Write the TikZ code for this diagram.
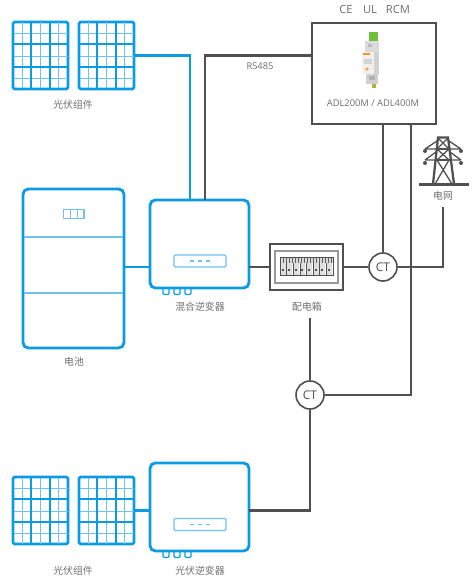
\documentclass[tikz,border=0pt]{standalone}
\usepackage{fontspec}
\setmainfont{Open Sans}
\newfontfamily\cjk{Noto Sans CJK SC}[Scale=1]
\definecolor{pvblue}{HTML}{0B9BE3}
\definecolor{lightb}{HTML}{6FC3EE}
\definecolor{darkl}{HTML}{505050}
\definecolor{txt}{HTML}{6E6E6E}
\definecolor{devgreen}{HTML}{6FBF3A}
\tikzset{
  bluewire/.style={draw=pvblue,line width=1.9pt},
  darkwire/.style={draw=darkl,line width=1.75pt},
  blueframe/.style={draw=pvblue,line width=2.1pt,rounded corners=4pt,fill=white,inner sep=0pt,outer sep=0pt},
  panelbox/.style={draw=pvblue,line width=2pt,rounded corners=1.2pt,inner sep=0pt,outer sep=0pt,minimum width=41.25pt,minimum height=50.25pt},
  ctnode/.style={circle,draw=darkl,line width=1.2pt,fill=white,minimum size=21pt,inner sep=0pt,font=\fontsize{9pt}{9pt}\selectfont,text=darkl},
  lab/.style={text=txt,inner sep=0pt,font=\cjk\fontsize{7.4pt}{8pt}\selectfont},
  lat/.style={text=txt,inner sep=0pt,font=\fontsize{7pt}{8pt}\selectfont},
  toplab/.style={text=txt,inner sep=0pt,font=\fontsize{8.4pt}{9pt}\selectfont},
  thinb/.style={draw=lightb,line width=0.8pt},
  thickb/.style={draw=pvblue,line width=1.8pt}
}
\newcommand{\pvpanel}[3]{% name, cx, cy
  \node[panelbox] (#1) at (#2,#3) {};
  \begin{scope}[shift={(#2,#3)}]
    \foreach \a in {-18.3,0,18.3} \draw[thinb] (\a,-33) -- (\a,33);
    \foreach \a in {-22.3,0.7,22.7} \draw[thinb] (-27,\a) -- (27,\a);
    \foreach \a in {-9.5,9.5} \draw[thickb] (\a,-33) -- (\a,33);
    \foreach \a in {-11.5,11.5} \draw[thickb] (-27,\a) -- (27,\a);
  \end{scope}
}
\newcommand{\invfeet}[2]{%
  \foreach \a in {-11,0,11}
    \draw[draw=pvblue,line width=0.9pt,rounded corners=1pt] (#1+\a-3,#2) -- (#1+\a-3,#2+6) -- (#1+\a+3,#2+6) -- (#1+\a+3,#2);
}
\newcommand{\invdisplay}[2]{%
  \draw[draw=lightb,line width=0.9pt,rounded corners=1pt] (#1-26,#2-6) rectangle (#1+26,#2+6);
  \foreach \a in {-8,0,8} \fill[lightb] (#1+\a-1.6,#2-0.8) rectangle (#1+\a+1.6,#2+0.8);
}
\begin{document}
\begin{tikzpicture}[x=0.75pt,y=-0.75pt]
\useasboundingbox (0,0) rectangle (474,577);
% nodes
\pvpanel{pvA}{40.5}{55.5}
\pvpanel{pvB}{106.5}{55.5}
\pvpanel{pvC}{40.5}{510.5}
\pvpanel{pvD}{106.5}{510.5}
\node[blueframe,minimum width=74.25pt,minimum height=66pt] (hyb) at (199.5,244) {};
\node[blueframe,minimum width=74.25pt,minimum height=66pt] (inv) at (199.5,507) {};
\node[blueframe,minimum width=75.75pt,minimum height=119.25pt] (bat) at (73.5,268.5) {};
\node[draw=darkl,line width=2.2pt,fill=white,inner sep=0pt,outer sep=0pt,minimum width=54.75pt,minimum height=34.5pt] (dist) at (306.5,267) {};
\node[draw=darkl,line width=2pt,fill=white,inner sep=0pt,outer sep=0pt,minimum width=93pt,minimum height=75.75pt] (mon) at (374,73.5) {};
\node[ctnode] (ct1) at (383,267) {CT};
\node[ctnode] (ct2) at (310,395) {CT};
\coordinate (hybBlue) at (190,200);
\coordinate (hybDark) at (205,200);
\coordinate (monL) at (383,124);
\coordinate (monR) at (411,124);
\coordinate (gridEnd) at (443,207);
\coordinate (distEnd) at (310,318);
% connectors
\draw[bluewire] (pvB.east) -| (hybBlue);
\draw[bluewire] (bat.east |- ct1.west) -- (hyb.west |- ct1.west);
\draw[bluewire] (pvD.east) -- (inv.west |- pvD.east);
\draw[darkwire] (hybDark) |- (mon.west |- pvB.east);
\draw[darkwire] (hyb.east |- ct1.west) -- (dist.west |- ct1.west);
\draw[darkwire] (dist.east |- ct1.west) -- (ct1.west);
\draw[darkwire] (ct1.north) -- (monL);
\draw[darkwire] (ct1.east) -| (gridEnd);
\draw[darkwire] (monR) |- (ct2.east);
\draw[darkwire] (distEnd) -- (ct2.north);
\draw[darkwire] (ct2.south) |- (inv.east |- pvD.east);
% inverters
\invfeet{177}{288.5}
\invfeet{177}{551.5}
\invdisplay{200}{261}
\invdisplay{200}{524.5}
% battery
\draw[draw=lightb,line width=1.2pt] (24,237) -- (123,237);
\draw[draw=lightb,line width=1pt] (24,293) -- (123,293);
\draw[draw=lightb,line width=0.9pt] (63.5,209.5) rectangle (84,218.5);
\draw[draw=lightb,line width=0.9pt] (70.3,209.5) -- (70.3,218.5) (77.2,209.5) -- (77.2,218.5);
% distribution box
\draw[draw=gray!80,line width=0.8pt] (275,251) rectangle (338,283);
\fill[gray!30] (280,257) rectangle (333,262.5);
\foreach \i in {0,...,17} \fill[darkl!90] (280+\i*3,257) rectangle (281.2+\i*3,262.5);
\draw[darkl,line width=0.4pt] (280,257) rectangle (333,275);
\foreach \i in {0,...,7} {
  \fill[gray!25] (280.5+\i*6.6,263) rectangle (285.5+\i*6.6,274.5);
  \fill[darkl] (281.5+\i*6.6,269) rectangle (283.5+\i*6.6,270.5);
  \draw[darkl,line width=0.35pt] (280+\i*6.6,263) -- (280+\i*6.6,275);
}
% device
\fill[gray!28] (365,41) rectangle (379,57);
\fill[gray!55] (368,44) rectangle (372,47);
\fill[devgreen] (369,32) rectangle (378,41);
\fill[gray!35] (366,52) rectangle (379,74);
\fill[gray!12] (362,52) rectangle (374,74);
\fill[orange!85] (362.5,53) rectangle (369.5,55.5);
\fill[gray!35] (364,59) rectangle (372,64);
\fill[orange!75] (367,69) circle (1.8);
\fill[gray!38] (366,74) rectangle (378,84);
\fill[gray!60] (369,76) rectangle (375,80);
\fill[olive!65] (372,84) rectangle (376,88);
% tower
\begin{scope}[draw=darkl,line width=0.95pt]
  \draw[line width=1.7pt] (419,184.5) -- (469,184.5);
  \draw[line width=1.7pt] (433,184) -- (438,137.5) -- (448,137.5) -- (454,184);
  \draw (438,138) -- (449,149) -- (437,160) -- (452,184) (448,138) -- (437,149) -- (449,160) -- (435,184);
  \draw (436,149) -- (450,149);
  \draw (436,160) -- (451,160);
  \draw (425,149) -- (461,149) (437,141) -- (425,149) (449,141) -- (461,149);
  \draw (425,160) -- (461,160) (436,152) -- (425,160) (450,152) -- (461,160);
  \foreach \a in {425,461} { \fill[darkl] (\a,151) circle (2); \fill[darkl] (\a,163) circle (2); }
\end{scope}
% labels
\node[lab] (l1) at (73,105) {光伏组件};
\node[lab] (l2) at (74,362) {电池};
\node[lab] (l3) at (200,307) {混合逆变器};
\node[lab] (l4) at (307,307) {配电箱};
\node[lab] (l5) at (73,571) {光伏组件};
\node[lab] (l6) at (200,571) {光伏逆变器};
\node[lab] (l7) at (443,196) {电网};
\node[lat] (rs) at (260,66) {RS485};
\node[lat] (adl) at (373,103) {ADL200M / ADL400M};
\node[toplab] (ce) at (346,10) {CE};
\node[toplab] (ul) at (370,10) {UL};
\node[toplab] (rcm) at (398,10) {RCM};
\end{tikzpicture}
\end{document}
